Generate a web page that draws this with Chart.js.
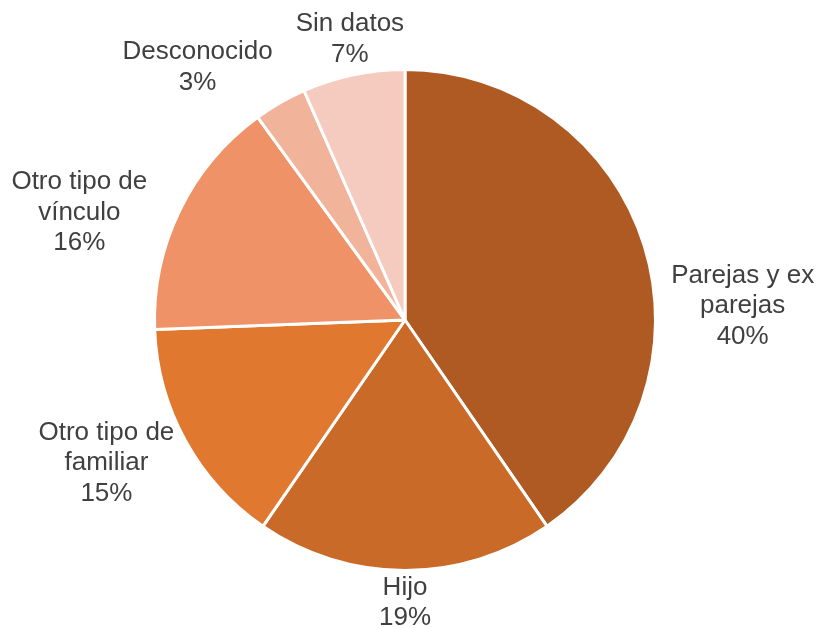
<!DOCTYPE html>
<html>
<head>
<meta charset="utf-8">
<style>
  html, body { margin: 0; padding: 0; background: #fff; }
  #wrap { width: 818px; height: 628px; position: relative; }
</style>
<script src="https://cdn.jsdelivr.net/npm/chart.js@4/dist/chart.umd.min.js"></script>
</head>
<body>
<div id="wrap"><canvas id="pie"></canvas></div>
<script>
const categories = [
    ['Parejas y ex', 'parejas'],
    ['Hijo'],
    ['Otro tipo de', 'familiar'],
    ['Otro tipo de', 'vínculo'],
    ['Desconocido'],
    ['Sin datos']
];
const shares = [40.4, 19.2, 14.8, 15.6, 3.4, 6.6];
const sliceColors = ['#AE5A22', '#C96A29', '#E0782F', '#EF9268', '#F2B39B', '#F6CBBF'];

// label block centre, in units of the pie radius, relative to the pie centre
const labelOffsets = [
    [1.348, -0.056],
    [0.0, 1.13],
    [-1.192, 0.572],
    [-1.3, -0.428],
    [-0.828, -1.008],
    [-0.22, -1.12]
];

const outsideLabels = {
    id: 'outsideLabels',
    afterDatasetsDraw(chart) {
        const ctx = chart.ctx;
        const meta = chart.getDatasetMeta(0);
        const total = shares.reduce((a, b) => a + b, 0);
        ctx.save();
        ctx.font = '26px "Liberation Sans", Arial, sans-serif';
        ctx.fillStyle = '#404040';
        ctx.textAlign = 'center';
        ctx.textBaseline = 'middle';
        const lineH = 30.5;
        meta.data.forEach((arc, i) => {
            const r = arc.outerRadius;
            const lines = categories[i].concat([Math.round(shares[i] / total * 100) + '%']);
            const cx = arc.x + labelOffsets[i][0] * r;
            const cy = arc.y + labelOffsets[i][1] * r;
            const top = cy - (lines.length - 1) * lineH / 2;
            lines.forEach((t, k) => ctx.fillText(t, cx, top + k * lineH));
        });
        ctx.restore();
    }
};

new Chart(document.getElementById('pie'), {
    type: 'pie',
    data: {
        labels: categories.map(c => c.join(' ')),
        datasets: [{
            data: shares,
            backgroundColor: sliceColors,
            borderColor: '#ffffff',
            borderWidth: 3
        }]
    },
    options: {
        responsive: true,
        maintainAspectRatio: false,
        animation: false,
        layout: { padding: { top: 68, bottom: 56, left: 153, right: 161 } },
        plugins: {
            legend: { display: false },
            tooltip: { enabled: false }
        }
    },
    plugins: [outsideLabels]
});
</script>
</body>
</html>
